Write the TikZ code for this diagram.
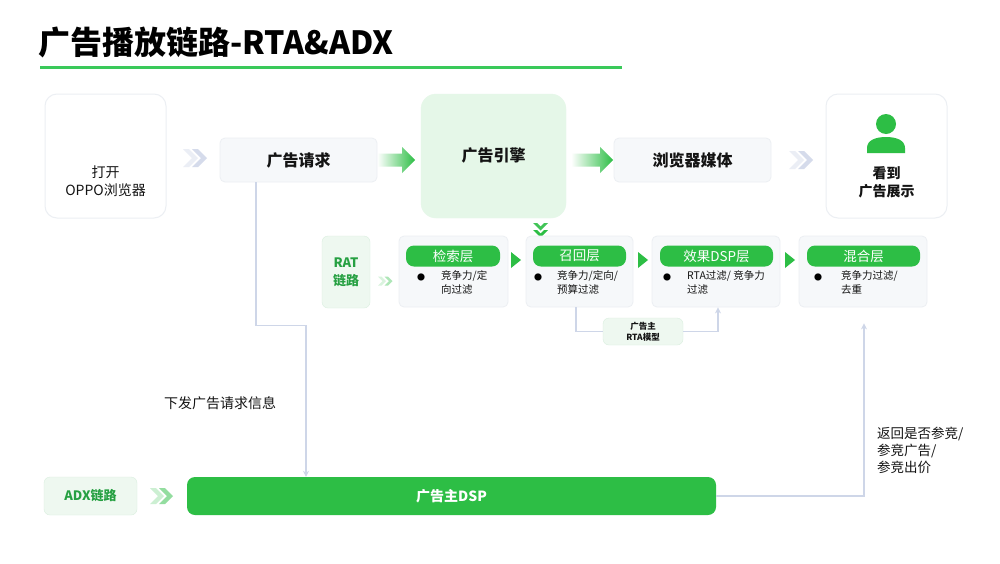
\documentclass[tikz,border=0pt]{standalone}
\usepackage{fontspec}
\setmainfont{Noto Sans CJK SC}
\usetikzlibrary{arrows.meta,shapes.geometric}
\definecolor{gmain}{RGB}{45,190,69}
\definecolor{gline}{RGB}{58,201,90}
\definecolor{gtext}{RGB}{38,160,66}
\definecolor{glight}{RGB}{229,247,232}
\definecolor{gpale}{RGB}{238,248,240}
\definecolor{gborder}{RGB}{218,239,223}
\definecolor{panelfill}{RGB}{246,248,250}
\definecolor{panelborder}{RGB}{236,239,243}
\definecolor{conn}{RGB}{206,214,232}
\definecolor{chevgray}{RGB}{206,213,232}
\definecolor{txt}{RGB}{20,20,20}
\newcommand{\mychev}[5]{% x, y, h, t, style
  \fill[#5] (#1,#2-#3/2) -- (#1+#4,#2-#3/2) -- (#1+#4+#3/2,#2) -- (#1+#4,#2+#3/2) -- (#1,#2+#3/2) -- (#1+#3/2,#2) -- cycle;}
\newcommand{\mydchev}[5]{% x, y, h, t, color
  \mychev{#1}{#2}{#3}{#4}{#5,fill opacity=0.4}
  \mychev{#1+#4+3}{#2}{#3}{#4}{#5,fill opacity=0.85}}
\begin{document}
\begin{tikzpicture}[x=1pt,y=-1pt,
  whitebox/.style={draw=panelborder,line width=1pt,fill=white,rounded corners=12pt,inner sep=0pt},
  greybox/.style={draw=panelborder,line width=0.8pt,fill=panelfill,rounded corners=5pt,inner sep=0pt},
  bigtxt/.style={font=\fontsize{16}{20}\selectfont\bfseries,text=txt},
  midtxt/.style={font=\fontsize{14}{18}\selectfont,text=txt,align=center},
  header/.style={fill=gmain,rounded corners=8pt,text=white,font=\fontsize{13.5}{15}\selectfont,inner sep=0pt,minimum height=21pt},
  small/.style={font=\fontsize{10.5}{14}\selectfont,text=txt,align=left,anchor=north west,inner sep=0pt},
  bul/.style={font=\fontsize{8}{10}\selectfont,text=black,inner sep=0pt},
  connline/.style={draw=conn,line width=1.5pt},
  conarrow/.style={connline,-{Stealth[length=6pt,width=6pt]}},
  tri/.style={fill=gmain}
]
\useasboundingbox (0,0) rectangle (1000,563);
\fill[white] (0,0) rectangle (1000,563);

% title
\node[anchor=west,inner sep=0pt,font=\fontsize{32}{36}\selectfont\bfseries,text=black] (title) at (38,42) {广告播放链路-RTA\&ADX};
\fill[gline] (40,65.5) rectangle (622,68.5);

% top row
\node[whitebox,minimum width=121pt,minimum height=124pt] (open) at (105.5,156) {};
\node[midtxt] (opentxt) at (105.5,181) {打开\\OPPO浏览器};

\mydchev{183}{158}{18}{6}{chevgray}

\node[greybox,minimum width=157pt,minimum height=44pt] (req) at (298.5,160) {};
\node[bigtxt] (reqtxt) at (req.center) {广告请求};

\shade[left color=gmain!2,right color=gmain] (378,153.5) -- (402,153.5) -- (402,147) -- (415,160) -- (402,173) -- (402,166.5) -- (378,166.5) -- cycle;

\node[draw=glight,fill=glight,rounded corners=15pt,minimum width=145pt,minimum height=124pt,inner sep=0pt] (engine) at (493.5,156) {};
\node[bigtxt] (enginetxt) at (493.5,155) {广告引擎};

\shade[left color=gmain!2,right color=gmain] (572,153.5) -- (600,153.5) -- (600,147) -- (613,160) -- (600,173) -- (600,166.5) -- (572,166.5) -- cycle;

\node[greybox,minimum width=157pt,minimum height=44pt] (media) at (692.5,160) {};
\node[bigtxt] (mediatxt) at (media.center) {浏览器媒体};

\mydchev{789}{160}{18}{6}{chevgray}

\node[whitebox,minimum width=121pt,minimum height=124pt] (see) at (886.5,156) {};
\fill[gmain] (886,124) circle (10);
\fill[gmain] (867,153) -- (867,148) .. controls (867,140) and (876,137) .. (886,137) .. controls (896,137) and (905,140) .. (905,148) -- (905,153) -- cycle;
\node[midtxt,font=\fontsize{14}{18}\selectfont\bfseries] (seetxt) at (886.5,182.5) {看到\\广告展示};

% down chevrons under engine
\fill[gmain,fill opacity=0.9] (533,223) -- (537,223) -- (540.5,226.5) -- (544,223) -- (548,223) -- (540.5,230.5) -- cycle;
\fill[gmain] (533,230) -- (537,230) -- (540.5,233.5) -- (544,230) -- (548,230) -- (540.5,237.5) -- cycle;

% RAT row
\node[draw=gborder,fill=gpale,rounded corners=6pt,minimum width=48pt,minimum height=72pt,inner sep=0pt] (rat) at (346,272) {};
\node[font=\fontsize{13}{18}\selectfont\bfseries,text=gtext,align=center] (rattxt) at (rat.center) {RAT\\链路};
\mydchev{378}{281}{9}{3.5}{gmain!45}

\node[greybox,minimum width=109pt,minimum height=71pt] (p1) at (453.5,271.5) {};
\node[header,minimum width=94pt] (h1) at (453,256) {检索层};
\node[bul] (b1) at (421,277) {●};
\node[small] (t1) at (441,270) {竞争力/定\\向过滤};

\fill[gmain] (511,252) -- (521,260) -- (511,268) -- cycle;

\node[greybox,minimum width=107pt,minimum height=71pt] (p2) at (579.5,271.5) {};
\node[header,minimum width=93pt] (h2) at (579.5,256) {召回层};
\node[bul] (b2) at (538,277) {●};
\node[small] (t2) at (557,270) {竞争力/定向/\\预算过滤};

\fill[gmain] (638,252) -- (648,260) -- (638,268) -- cycle;

\node[greybox,minimum width=128pt,minimum height=71pt] (p3) at (716,271.5) {};
\node[header,minimum width=113pt] (h3) at (716.5,256) {效果DSP层};
\node[bul] (b3) at (667,277) {●};
\node[small] (t3) at (687,270) {RTA过滤/ 竞争力\\过滤};

\fill[gmain] (785,252) -- (795,260) -- (785,268) -- cycle;

\node[greybox,minimum width=128pt,minimum height=71pt] (p4) at (863,271.5) {};
\node[header,minimum width=113pt] (h4) at (863.5,256) {混合层};
\node[bul] (b4) at (818,277) {●};
\node[small] (t4) at (841,270) {竞争力过滤/\\去重};

% RTA model
\node[draw=gborder,fill=gpale,rounded corners=6pt,minimum width=80pt,minimum height=27pt,inner sep=0pt] (rta) at (643,331.5) {};
\node[font=\fontsize{8.5}{11}\selectfont\bfseries,text=txt,align=center] (rtatxt) at (rta.center) {广告主\\RTA模型};
\draw[connline] ([xshift=-3.5pt]p2.south) |- (rta.west);
\draw[conarrow] (rta.east) -| ([xshift=2pt]p3.south);

% bottom
\node[draw=gborder,fill=gpale,rounded corners=6pt,minimum width=93pt,minimum height=38pt,inner sep=0pt] (adx) at (90.5,496) {};
\node[font=\fontsize{13}{16}\selectfont\bfseries,text=gtext] (adxtxt) at (adx.center) {ADX链路};
\mydchev{150}{496}{16}{6}{gmain!60}

\node[fill=gmain,rounded corners=8pt,minimum width=529pt,minimum height=38pt,inner sep=0pt] (dsp) at (451.5,496) {};
\node[font=\fontsize{14}{18}\selectfont\bfseries,text=white] (dsptxt) at (dsp.center) {广告主DSP};

\coordinate (bend1) at (256,325.5);
\coordinate (bend2) at (306,325.5);
\draw[conarrow] ([xshift=-42.5pt]req.south) -- (bend1) -- (bend2) -- (bend2 |- dsp.north);
\node[font=\fontsize{14}{18}\selectfont,text=txt,anchor=west,inner sep=0pt] (down) at (164,403) {下发广告请求信息};

\coordinate (bend3) at (864,496);
\draw[conarrow] (dsp.east) -- (bend3) -- ([yshift=-16pt]p4.south -| bend3);
\node[font=\fontsize{13.5}{17}\selectfont,text=txt,align=left,anchor=north west,inner sep=0pt] (ret) at (877,427) {返回是否参竞/\\参竞广告/\\参竞出价};
\end{tikzpicture}
\end{document}
